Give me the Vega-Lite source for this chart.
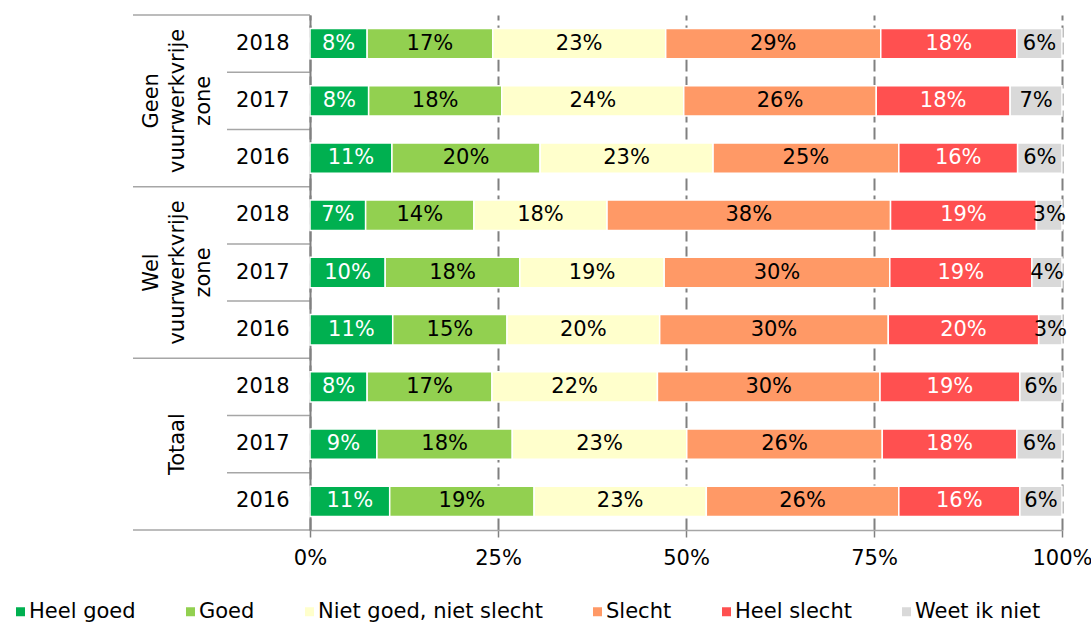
{
  "$schema": "https://vega.github.io/schema/vega-lite/v6.json",
  "padding": {"left": 10, "top": 14, "right": 3, "bottom": 2},
  "spacing": 0,
  "bounds": "flush",
  "config": {
    "view": {"stroke": null},
    "font": "DejaVu Sans",
    "axis": {"labelFont": "DejaVu Sans", "labelColor": "#000000"}
  },
  "datasets": {
    "groepen": [
      {"groep": "Geen vuurwerkvrije zone", "label": "Geen\nvuurwerkvrije\nzone"},
      {"groep": "Wel vuurwerkvrije zone", "label": "Wel\nvuurwerkvrije\nzone"},
      {"groep": "Totaal", "label": "\n\nTotaal"}
    ],
    "rijen": [
      {"rij": "Geen 2018", "jaar": "2018"},
      {"rij": "Geen 2017", "jaar": "2017"},
      {"rij": "Geen 2016", "jaar": "2016"},
      {"rij": "Wel 2018", "jaar": "2018"},
      {"rij": "Wel 2017", "jaar": "2017"},
      {"rij": "Wel 2016", "jaar": "2016"},
      {"rij": "Totaal 2018", "jaar": "2018"},
      {"rij": "Totaal 2017", "jaar": "2017"},
      {"rij": "Totaal 2016", "jaar": "2016"}
    ],
    "scores": [
      {"rij": "Geen 2018", "c": "Heel goed", "o": 1, "v": 0.076},
      {"rij": "Geen 2018", "c": "Goed", "o": 2, "v": 0.167},
      {"rij": "Geen 2018", "c": "Niet goed, niet slecht", "o": 3, "v": 0.230},
      {"rij": "Geen 2018", "c": "Slecht", "o": 4, "v": 0.286},
      {"rij": "Geen 2018", "c": "Heel slecht", "o": 5, "v": 0.181},
      {"rij": "Geen 2018", "c": "Weet ik niet", "o": 6, "v": 0.060},
      {"rij": "Geen 2017", "c": "Heel goed", "o": 1, "v": 0.078},
      {"rij": "Geen 2017", "c": "Goed", "o": 2, "v": 0.177},
      {"rij": "Geen 2017", "c": "Niet goed, niet slecht", "o": 3, "v": 0.242},
      {"rij": "Geen 2017", "c": "Slecht", "o": 4, "v": 0.256},
      {"rij": "Geen 2017", "c": "Heel slecht", "o": 5, "v": 0.178},
      {"rij": "Geen 2017", "c": "Weet ik niet", "o": 6, "v": 0.069},
      {"rij": "Geen 2016", "c": "Heel goed", "o": 1, "v": 0.109},
      {"rij": "Geen 2016", "c": "Goed", "o": 2, "v": 0.197},
      {"rij": "Geen 2016", "c": "Niet goed, niet slecht", "o": 3, "v": 0.230},
      {"rij": "Geen 2016", "c": "Slecht", "o": 4, "v": 0.247},
      {"rij": "Geen 2016", "c": "Heel slecht", "o": 5, "v": 0.158},
      {"rij": "Geen 2016", "c": "Weet ik niet", "o": 6, "v": 0.059},
      {"rij": "Wel 2018", "c": "Heel goed", "o": 1, "v": 0.074},
      {"rij": "Wel 2018", "c": "Goed", "o": 2, "v": 0.144},
      {"rij": "Wel 2018", "c": "Niet goed, niet slecht", "o": 3, "v": 0.177},
      {"rij": "Wel 2018", "c": "Slecht", "o": 4, "v": 0.377},
      {"rij": "Wel 2018", "c": "Heel slecht", "o": 5, "v": 0.194},
      {"rij": "Wel 2018", "c": "Weet ik niet", "o": 6, "v": 0.034},
      {"rij": "Wel 2017", "c": "Heel goed", "o": 1, "v": 0.100},
      {"rij": "Wel 2017", "c": "Goed", "o": 2, "v": 0.179},
      {"rij": "Wel 2017", "c": "Niet goed, niet slecht", "o": 3, "v": 0.192},
      {"rij": "Wel 2017", "c": "Slecht", "o": 4, "v": 0.300},
      {"rij": "Wel 2017", "c": "Heel slecht", "o": 5, "v": 0.189},
      {"rij": "Wel 2017", "c": "Weet ik niet", "o": 6, "v": 0.040},
      {"rij": "Wel 2016", "c": "Heel goed", "o": 1, "v": 0.110},
      {"rij": "Wel 2016", "c": "Goed", "o": 2, "v": 0.152},
      {"rij": "Wel 2016", "c": "Niet goed, niet slecht", "o": 3, "v": 0.203},
      {"rij": "Wel 2016", "c": "Slecht", "o": 4, "v": 0.304},
      {"rij": "Wel 2016", "c": "Heel slecht", "o": 5, "v": 0.200},
      {"rij": "Wel 2016", "c": "Weet ik niet", "o": 6, "v": 0.031},
      {"rij": "Totaal 2018", "c": "Heel goed", "o": 1, "v": 0.076},
      {"rij": "Totaal 2018", "c": "Goed", "o": 2, "v": 0.166},
      {"rij": "Totaal 2018", "c": "Niet goed, niet slecht", "o": 3, "v": 0.220},
      {"rij": "Totaal 2018", "c": "Slecht", "o": 4, "v": 0.296},
      {"rij": "Totaal 2018", "c": "Heel slecht", "o": 5, "v": 0.186},
      {"rij": "Totaal 2018", "c": "Weet ik niet", "o": 6, "v": 0.056},
      {"rij": "Totaal 2017", "c": "Heel goed", "o": 1, "v": 0.089},
      {"rij": "Totaal 2017", "c": "Goed", "o": 2, "v": 0.180},
      {"rij": "Totaal 2017", "c": "Niet goed, niet slecht", "o": 3, "v": 0.232},
      {"rij": "Totaal 2017", "c": "Slecht", "o": 4, "v": 0.260},
      {"rij": "Totaal 2017", "c": "Heel slecht", "o": 5, "v": 0.179},
      {"rij": "Totaal 2017", "c": "Weet ik niet", "o": 6, "v": 0.060},
      {"rij": "Totaal 2016", "c": "Heel goed", "o": 1, "v": 0.106},
      {"rij": "Totaal 2016", "c": "Goed", "o": 2, "v": 0.192},
      {"rij": "Totaal 2016", "c": "Niet goed, niet slecht", "o": 3, "v": 0.229},
      {"rij": "Totaal 2016", "c": "Slecht", "o": 4, "v": 0.256},
      {"rij": "Totaal 2016", "c": "Heel slecht", "o": 5, "v": 0.161},
      {"rij": "Totaal 2016", "c": "Weet ik niet", "o": 6, "v": 0.056}
    ]
  },
  "hconcat": [
    {
      "width": 94,
      "height": 515,
      "data": {"name": "groepen"},
      "layer": [
        {
          "mark": {"type": "rule", "color": "#a6a6a6", "strokeWidth": 1.5},
          "encoding": {
            "y": {"field": "groep", "type": "nominal", "bandPosition": 0,
              "scale": {"type": "band", "paddingInner": 0, "paddingOuter": 0, "domain": ["Geen vuurwerkvrije zone", "Wel vuurwerkvrije zone", "Totaal"]},
              "axis": null}
          }
        },
        {
          "transform": [{"filter": "datum.groep == 'Totaal'"}],
          "mark": {"type": "rule", "color": "#a6a6a6", "strokeWidth": 1.5},
          "encoding": {
            "y": {"field": "groep", "type": "nominal", "bandPosition": 1, "axis": null}
          }
        },
        {
          "mark": {"type": "text", "angle": 270, "lineBreak": "\n", "fontSize": 21, "lineHeight": 26, "baseline": "bottom", "dy": -18, "font": "DejaVu Sans", "color": "#000000"},
          "encoding": {
            "y": {"field": "groep", "type": "nominal", "axis": null},
            "text": {"field": "label", "type": "nominal"}
          }
        }
      ]
    },
    {
      "width": 83,
      "height": 515,
      "data": {"name": "rijen"},
      "layer": [
        {
          "mark": {"type": "rule", "color": "#a6a6a6", "strokeWidth": 1.5},
          "encoding": {
            "y": {"field": "rij", "type": "nominal", "bandPosition": 0,
              "scale": {"type": "band", "paddingInner": 0, "paddingOuter": 0,
                "domain": ["Geen 2018", "Geen 2017", "Geen 2016", "Wel 2018", "Wel 2017", "Wel 2016", "Totaal 2018", "Totaal 2017", "Totaal 2016"]},
              "axis": null}
          }
        },
        {
          "transform": [{"filter": "datum.rij == 'Totaal 2016'"}],
          "mark": {"type": "rule", "color": "#a6a6a6", "strokeWidth": 1.5},
          "encoding": {
            "y": {"field": "rij", "type": "nominal", "bandPosition": 1, "axis": null}
          }
        },
        {
          "mark": {"type": "text", "fontSize": 21, "align": "right", "dx": 21, "font": "DejaVu Sans", "color": "#000000"},
          "encoding": {
            "y": {"field": "rij", "type": "nominal", "axis": null},
            "text": {"field": "jaar", "type": "nominal"}
          }
        }
      ]
    },
    {
      "width": 752,
      "height": 515,
      "data": {"name": "scores"},
      "encoding": {
        "y": {
          "field": "rij", "type": "nominal", "sort": null,
          "scale": {"paddingInner": 0.47, "paddingOuter": 0.235},
          "axis": {"title": null, "labels": false, "ticks": false, "minExtent": 0, "domainColor": "#808080", "domainWidth": 2}
        },
        "x": {
          "field": "v", "type": "quantitative", "stack": "zero",
          "scale": {"domain": [0, 1], "nice": false},
          "axis": {
            "title": null, "values": [0, 0.25, 0.5, 0.75, 1], "format": ".0%",
            "labelFlush": false, "grid": true, "gridDash": [12, 5], "gridColor": "#808080", "gridWidth": 2,
            "tickSize": 7, "tickColor": "#808080", "tickWidth": 1.5,
            "domainColor": "#a6a6a6", "domainWidth": 1.5,
            "labelFontSize": 21, "labelPadding": 10
          }
        },
        "order": {"field": "o", "type": "quantitative"}
      },
      "layer": [
        {
          "mark": {"type": "bar", "stroke": "#ffffff", "strokeWidth": 1.5},
          "encoding": {
            "color": {
              "field": "c", "type": "nominal",
              "scale": {
                "domain": ["Heel goed", "Goed", "Niet goed, niet slecht", "Slecht", "Heel slecht", "Weet ik niet"],
                "range": ["#00B050", "#92D050", "#FFFFCC", "#FF9966", "#FF5050", "#D9D9D9"]
              },
              "legend": {
                "orient": "none", "legendX": -123, "legendY": 586, "direction": "horizontal",
                "title": null, "symbolType": "square", "symbolSize": 81, "symbolStrokeWidth": 0,
                "labelFontSize": 21, "labelFont": "DejaVu Sans", "labelColor": "#000000", "labelLimit": 400,
                "columnPadding": 44, "labelOffset": -2
              }
            }
          }
        },
        {
          "mark": {"type": "text", "fontSize": 21, "font": "DejaVu Sans"},
          "encoding": {
            "x": {"field": "v", "type": "quantitative", "stack": "zero", "bandPosition": 0.5},
            "detail": {"field": "c", "type": "nominal"},
            "text": {"field": "v", "type": "quantitative", "format": ".0%"},
            "color": {
              "condition": {"test": "datum.c == 'Heel goed' || datum.c == 'Heel slecht'", "value": "#ffffff"},
              "value": "#000000"
            }
          }
        }
      ]
    }
  ]
}
